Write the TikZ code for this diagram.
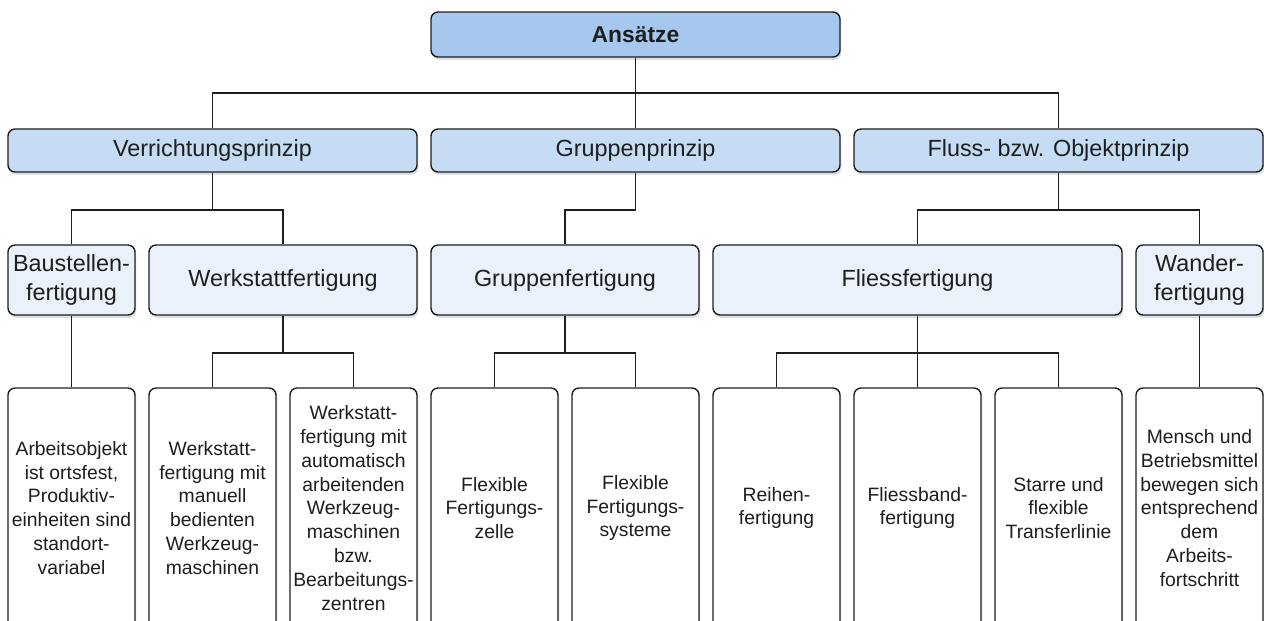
\documentclass[tikz,border=0pt]{standalone}
\usepackage{fontspec}
\setmainfont{Liberation Sans}
\usetikzlibrary{shadows}
\definecolor{topblue}{RGB}{166,199,238}
\definecolor{midblue}{RGB}{198,220,245}
\definecolor{lowblue}{RGB}{234,241,250}
\definecolor{ink}{RGB}{30,30,30}

\begin{document}
\begin{tikzpicture}[
  box/.style={draw=ink,line width=0.8pt,rounded corners=4pt,align=center,text=ink,inner sep=1pt,
              drop shadow={shadow xshift=0.8pt,shadow yshift=-1.6pt,opacity=0.25}},
  head/.style={box,fill=topblue,minimum width=8.18cm,minimum height=0.9cm,
               font=\fontsize{13}{16}\selectfont\bfseries},
  prinz/.style={box,fill=midblue,minimum width=8.18cm,minimum height=0.86cm,
                font=\fontsize{13.3}{16}\selectfont},
  fert/.style={box,fill=lowblue,minimum height=1.4cm,font=\fontsize{13.3}{16.5}\selectfont},
  detail/.style={box,fill=white,minimum width=2.54cm,minimum height=4.8cm,
                 font=\fontsize{11}{13.6}\selectfont},
  conn/.style={draw=ink,line width=0.8pt}
]
\useasboundingbox (0,0) rectangle (25.28,-12.4);
% Columns are 2.54cm wide, 2.82cm apart; buses between the levels
\coordinate (b1) at (0,-1.86);
\coordinate (b2) at (0,-4.2);
\coordinate (b3) at (0,-7.06);

\node[head] (ans) at (12.71,-0.69) {Ansätze};
% Level 2
\node[prinz] (vp) at (4.25,-3.01)  {Verrichtungsprinzip};
\node[prinz] (gp) at (12.71,-3.01) {Gruppenprinzip};
\node[prinz] (fp) at (21.17,-3.01) {Fluss- bzw. Objektprinzip};
% Level 3
\node[fert,minimum width=2.54cm] (bf) at (1.43,-5.6)  {Baustellen-\\fertigung};
\node[fert,minimum width=5.36cm] (wf) at (5.66,-5.6)  {Werkstattfertigung};
\node[fert,minimum width=5.36cm] (gf) at (11.30,-5.6) {Gruppenfertigung};
\node[fert,minimum width=8.18cm] (ff) at (18.35,-5.6) {Fliessfertigung};
\node[fert,minimum width=2.54cm] (wa) at (23.99,-5.6) {Wander-\\fertigung};
% Level 4
\node[detail] (d1) at (1.43,-10.16)  {Arbeitsobjekt\\ist ortsfest,\\Produktiv-\\einheiten sind\\standort-\\variabel};
\node[detail] (d2) at (4.25,-10.16)  {Werkstatt-\\fertigung mit\\manuell\\bedienten\\Werkzeug-\\maschinen};
\node[detail] (d3) at (7.07,-10.16)  {Werkstatt-\\fertigung mit\\automatisch\\arbeitenden\\Werkzeug-\\maschinen\\bzw.\\Bearbeitungs-\\zentren};
\node[detail] (d4) at (9.89,-10.16)  {Flexible\\Fertigungs-\\zelle};
\node[detail] (d5) at (12.71,-10.16) {Flexible\\Fertigungs-\\systeme};
\node[detail] (d6) at (15.53,-10.16) {Reihen-\\fertigung};
\node[detail] (d7) at (18.35,-10.16) {Fliessband-\\fertigung};
\node[detail] (d8) at (21.17,-10.16) {Starre und\\flexible\\Transferlinie};
\node[detail] (d9) at (23.99,-10.16) {Mensch und\\Betriebsmittel\\bewegen sich\\entsprechend\\dem\\Arbeits-\\fortschritt};

% Ansaetze -> Prinzipien
\draw[conn] (ans.south) -- (ans.south |- b1);
\draw[conn] (vp.north) -- (vp.north |- b1) -- (fp.north |- b1) -- (fp.north);
\draw[conn] (gp.north) -- (gp.north |- b1);
% Prinzipien -> Fertigungsarten
\draw[conn] (vp.south) -- (vp.south |- b2);
\draw[conn] (bf.north) -- (bf.north |- b2) -- (wf.north |- b2) -- (wf.north);
\draw[conn] (gp.south) -- (gp.south |- b2) -- (gf.north |- b2) -- (gf.north);
\draw[conn] (fp.south) -- (fp.south |- b2);
\draw[conn] (ff.north) -- (ff.north |- b2) -- (wa.north |- b2) -- (wa.north);
% Fertigungsarten -> Auspraegungen
\draw[conn] (bf.south) -- (d1.north);
\draw[conn] (wf.south) -- (wf.south |- b3);
\draw[conn] (d2.north) -- (d2.north |- b3) -- (d3.north |- b3) -- (d3.north);
\draw[conn] (gf.south) -- (gf.south |- b3);
\draw[conn] (d4.north) -- (d4.north |- b3) -- (d5.north |- b3) -- (d5.north);
\draw[conn] (ff.south) -- (ff.south |- b3);
\draw[conn] (d6.north) -- (d6.north |- b3) -- (d8.north |- b3) -- (d8.north);
\draw[conn] (d7.north) -- (d7.north |- b3);
\draw[conn] (wa.south) -- (d9.north);
\end{tikzpicture}
\end{document}
